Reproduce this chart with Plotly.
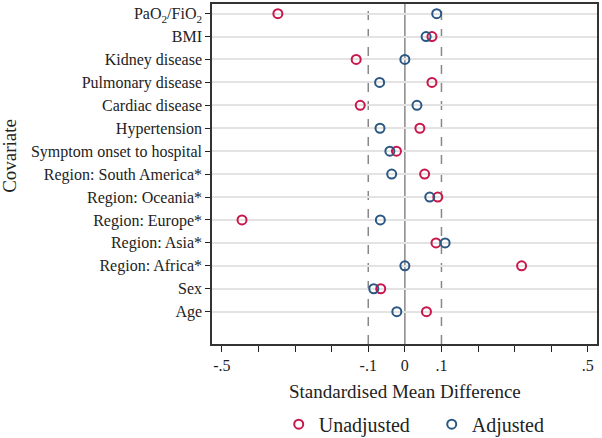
import plotly.graph_objects as go

covariates = ["Age", "Sex", "Region: Africa*", "Region: Asia*", "Region: Europe*",
              "Region: Oceania*", "Region: South America*", "Symptom onset to hospital",
              "Hypertension", "Cardiac disease", "Pulmonary disease", "Kidney disease",
              "BMI", "PaO<sub>2</sub>/FiO<sub>2</sub>"]
unadjusted = [0.059, -0.066, 0.319, 0.085, -0.445, 0.090, 0.054, -0.023,
              0.041, -0.122, 0.074, -0.133, 0.074, -0.347]
adjusted = [-0.022, -0.085, 0.0, 0.110, -0.067, 0.068, -0.036, -0.041,
            -0.068, 0.033, -0.069, 0.0, 0.058, 0.087]
tick_vals = [-0.5, -0.4, -0.3, -0.2, -0.1, 0, 0.1, 0.2, 0.3, 0.4, 0.5]
tick_text = ["-.5", "", "", "", "-.1", "0", ".1", "", "", "", ".5"]
ref_lines = [-0.1, 0.1]

ypos = list(range(len(covariates)))
font = "Liberation Serif, Times New Roman, serif"

fig = go.Figure()
fig.add_trace(go.Scatter(x=unadjusted, y=ypos, mode="markers", name="Unadjusted",
                         marker=dict(symbol="circle-open", size=9, color="#c8174a",
                                     line=dict(width=2, color="#c8174a"))))
fig.add_trace(go.Scatter(x=adjusted, y=ypos, mode="markers", name="Adjusted",
                         marker=dict(symbol="circle-open", size=9, color="#2a5783",
                                     line=dict(width=2, color="#2a5783"))))

for v in ref_lines:
    fig.add_shape(type="line", x0=v, x1=v, y0=0, y1=1, yref="paper", xref="x",
                  line=dict(color="#888888", width=1.5, dash="dash"), layer="below")
fig.add_shape(type="line", x0=0, x1=0, y0=0, y1=1, yref="paper", xref="x",
              line=dict(color="#888888", width=1.5), layer="below")

fig.add_annotation(text="Covariate", xref="paper", yref="paper", x=-0.525, y=0.553,
                   textangle=-90, showarrow=False, xanchor="center", yanchor="middle",
                   font=dict(size=19, family=font, color="#222"))
fig.add_annotation(text="Standardised Mean Difference", xref="paper", yref="paper",
                   x=0.5, y=-0.141, showarrow=False, xanchor="center", yanchor="middle",
                   font=dict(size=19, family=font, color="#222"))

fig.update_layout(
    width=602, height=438,
    margin=dict(l=212, r=5, t=4, b=94, autoexpand=False),
    plot_bgcolor="white", paper_bgcolor="white",
    font=dict(family=font, size=16, color="#222"),
    showlegend=True,
    legend=dict(orientation="h", xref="container", yref="container",
                x=0.463, xanchor="left", y=0.076, yanchor="top",
                font=dict(size=20, family=font), itemwidth=30, entrywidth=108),
    xaxis=dict(range=[-0.527, 0.525], tickvals=tick_vals, ticktext=tick_text,
               showgrid=False, zeroline=False, ticks="outside", ticklen=6,
               tickcolor="#222", showline=True, linecolor="#333", linewidth=1.5,
               mirror=True, tickfont=dict(size=16), automargin=False),
    yaxis=dict(range=[-1.41, 13.42], tickvals=ypos, ticktext=covariates,
               showgrid=True, gridcolor="#e3e3e3", gridwidth=1.5, zeroline=False,
               ticks="outside", ticklen=5, tickcolor="#222", showline=True,
               linecolor="#333", linewidth=1.5, mirror=True,
               tickfont=dict(size=16), automargin=False),
)

fig.write_html("out.html", config={"displayModeBar": False},
               post_script="document.body.style.margin='0';")
